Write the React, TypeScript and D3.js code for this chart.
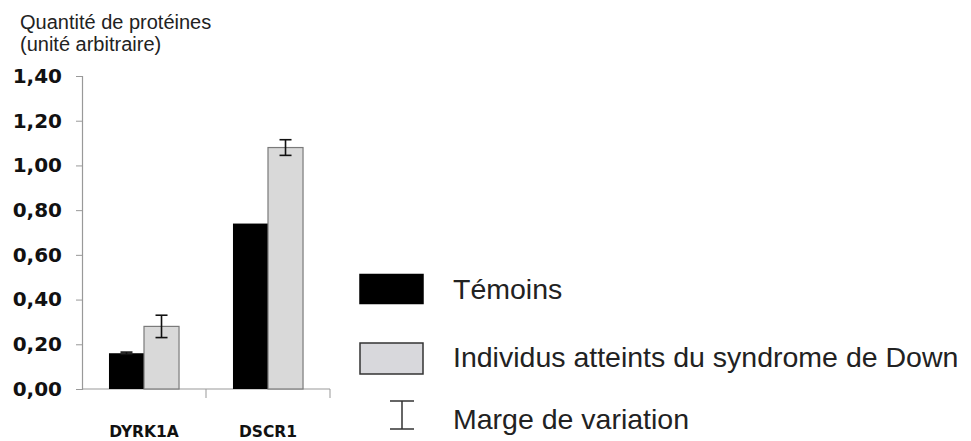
import * as d3 from 'd3'
import { useEffect, useRef } from 'react'

// chart values
const categories = ['DYRK1A', 'DSCR1']
const seriesNames = ['Témoins', 'Individus atteints du syndrome de Down']
const temoinsValues = [0.16, 0.74]
const temoinsErrors = [0.005, 0]
const downValues = [0.28, 1.08]
const downErrors = [0.05, 0.035]
const yTicks = [0, 0.2, 0.4, 0.6, 0.8, 1.0, 1.2, 1.4]
const titleLines = ['Quantité de protéines', '(unité arbitraire)']
const errorLabel = 'Marge de variation'

const width = 971
const height = 441

export default function App() {
    const svgRef = useRef<SVGSVGElement>(null)

    useEffect(() => {
        const svg = d3.select(svgRef.current)
        svg.selectAll('*').remove()

        const left = 82
        const right = 330
        const top = 76
        const bottom = 389

        const y = d3.scaleLinear().domain([0, 1.4]).range([bottom, top])
        const x = d3.scaleBand().domain(categories).range([left, right])
        const xSub = d3.scaleBand()
            .domain(seriesNames)
            .range([0, x.bandwidth()])
            .paddingInner(0)
            .paddingOuter(0.77)

        const rows = categories.map((c, i) => [
            { cat: c, s: seriesNames[0], v: temoinsValues[i], e: temoinsErrors[i], fill: '#000', stroke: 'none' },
            { cat: c, s: seriesNames[1], v: downValues[i], e: downErrors[i], fill: '#d9d9d9', stroke: '#7a7a7a' },
        ]).flat()

        // title
        svg.append('g')
            .selectAll('text')
            .data(titleLines)
            .join('text')
            .attr('x', 20)
            .attr('y', (_, i) => 29 + i * 22)
            .attr('font-family', 'Liberation Sans, Arial, sans-serif')
            .attr('font-size', 20)
            .attr('fill', '#222')
            .text(d => d)

        // y axis
        const yAxis = svg.append('g')
            .attr('transform', `translate(${left},0)`)
            .call(d3.axisLeft(y).tickValues(yTicks).tickSize(6).tickPadding(14)
                .tickFormat(d => d3.format('.2f')(d as number).replace('.', ',')))
        yAxis.select('.domain').attr('stroke', '#999').attr('stroke-width', 1.2)
        yAxis.selectAll('.tick line').attr('stroke', '#999')
        yAxis.selectAll('.tick text')
            .attr('font-family', 'DejaVu Sans, Verdana, sans-serif')
            .attr('font-weight', 'bold')
            .attr('font-size', 20)
            .attr('fill', '#111')

        // x axis, ticks sit between categories
        const xAxis = svg.append('g')
            .attr('transform', `translate(0,${bottom})`)
        xAxis.append('line')
            .attr('x1', left).attr('x2', right)
            .attr('stroke', '#999').attr('stroke-width', 1.2)
        xAxis.selectAll('line.tk')
            .data(categories)
            .join('line')
            .attr('class', 'tk')
            .attr('x1', d => (x(d) as number) + x.bandwidth())
            .attr('x2', d => (x(d) as number) + x.bandwidth())
            .attr('y1', 0).attr('y2', 9)
            .attr('stroke', '#999')
        xAxis.selectAll('text')
            .data(categories)
            .join('text')
            .attr('x', d => (x(d) as number) + x.bandwidth() / 2)
            .attr('y', 48)
            .attr('text-anchor', 'middle')
            .attr('font-family', 'DejaVu Sans, Verdana, sans-serif')
            .attr('font-weight', 'bold')
            .attr('font-size', 15.5)
            .attr('fill', '#111')
            .text(d => d)

        // bars
        svg.append('g')
            .selectAll('rect')
            .data(rows)
            .join('rect')
            .attr('x', d => (x(d.cat) as number) + (xSub(d.s) as number))
            .attr('y', d => y(d.v))
            .attr('width', xSub.bandwidth())
            .attr('height', d => y(0) - y(d.v))
            .attr('fill', d => d.fill)
            .attr('stroke', d => d.stroke)
            .attr('stroke-width', 1.2)

        // error bars
        const errs = svg.append('g')
            .selectAll('g')
            .data(rows.filter(d => d.e > 0))
            .join('g')
            .attr('transform', d => `translate(${(x(d.cat) as number) + (xSub(d.s) as number) + xSub.bandwidth() / 2},0)`)
        errs.append('line')
            .attr('y1', d => y(d.v - d.e)).attr('y2', d => y(d.v + d.e))
            .attr('stroke', '#111').attr('stroke-width', 1.6)
        errs.append('line')
            .attr('x1', -6).attr('x2', 6)
            .attr('y1', d => y(d.v + d.e)).attr('y2', d => y(d.v + d.e))
            .attr('stroke', '#111').attr('stroke-width', 1.6)
        errs.append('line')
            .attr('x1', -6).attr('x2', 6)
            .attr('y1', d => y(d.v - d.e)).attr('y2', d => y(d.v - d.e))
            .attr('stroke', '#111').attr('stroke-width', 1.6)

        // legend
        const legend = svg.append('g')
        const items = [
            { label: seriesNames[0], fill: '#000', stroke: '#000', cy: 289.5 },
            { label: seriesNames[1], fill: '#d8d8dc', stroke: '#333', cy: 358 },
        ]
        legend.selectAll('rect')
            .data(items)
            .join('rect')
            .attr('x', 360)
            .attr('y', d => d.cy - 15)
            .attr('width', 63)
            .attr('height', d => (d.fill === '#000' ? 29 : 31))
            .attr('fill', d => d.fill)
            .attr('stroke', d => d.stroke)
            .attr('stroke-width', 1.5)
        legend.selectAll('text.lab')
            .data([...items.map(d => ({ label: d.label, cy: d.cy })), { label: errorLabel, cy: 420 }])
            .join('text')
            .attr('class', 'lab')
            .attr('x', 453)
            .attr('y', d => d.cy + 9)
            .attr('font-family', 'Liberation Sans, Arial, sans-serif')
            .attr('font-size', 28.5)
            .attr('fill', '#222')
            .text(d => d.label)
        const ic = legend.append('g').attr('transform', 'translate(402,0)')
        ic.append('line').attr('y1', 401).attr('y2', 429).attr('stroke', '#333').attr('stroke-width', 1.5)
        ic.append('line').attr('x1', -12).attr('x2', 12).attr('y1', 401).attr('y2', 401).attr('stroke', '#333').attr('stroke-width', 1.5)
        ic.append('line').attr('x1', -12).attr('x2', 12).attr('y1', 429).attr('y2', 429).attr('stroke', '#333').attr('stroke-width', 1.5)
    }, [])

    return (
        <svg ref={svgRef} width={width} height={height}
            style={{ position: 'absolute', left: 0, top: 0, background: '#fff' }} />
    )
}
